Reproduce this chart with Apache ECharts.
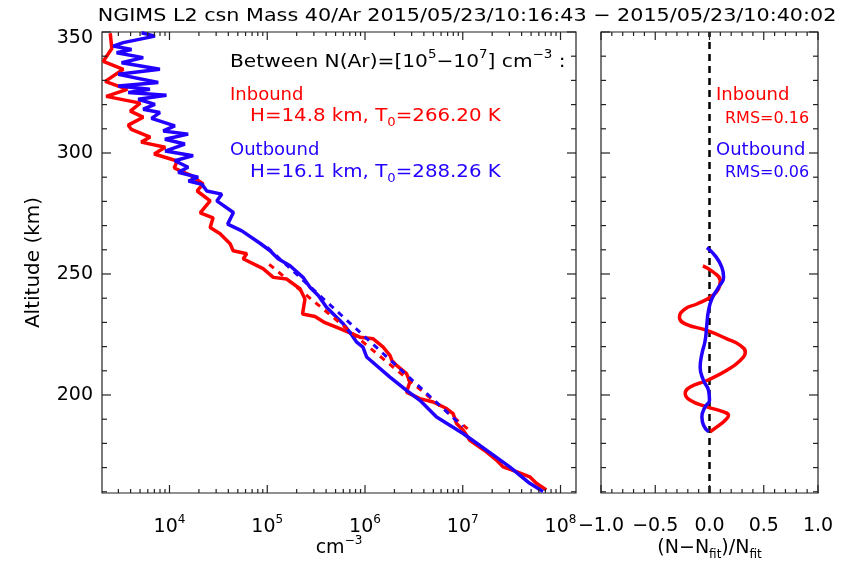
<!DOCTYPE html>
<html><head><meta charset="utf-8">
<script src="https://cdn.jsdelivr.net/npm/echarts@6/dist/echarts.min.js"></script>
<style>html,body{margin:0;padding:0;background:#fff}#c{width:843px;height:561px}</style>
</head><body><div id="c"></div>
<script>
const titleText = 'NGIMS L2 csn Mass 40/Ar 2015/05/23/10:16:43 \u2212 2015/05/23/10:40:02';

// Inbound (red) density profile: altitude (km) and log10 density (cm^-3)
const inboundAlt = [349.5,343.2,337.9,334.6,329.6,326.3,323.4,320.6,317.3,314.8,311.5,309.8,306.6,304.5,302.4,299.6,296.7,293.8,290.9,287.2,284.3,280.2,275.3,273.2,269.2,266.6,262.5,259.6,258.4,256.3,252.2,248.6,247.9,243.9,239.7,233.5,232.4,229.9,227.4,223.9,223.2,219.8,216.4,214.3,212.2,208.8,205.4,201.2,198.5,197.1,194.4,192.3,188.2,185.5,181.3,176.5,173.1,170.3,168.3,166.2,163.5,160.8];
const inboundLogN = [3.394,3.410,3.323,3.527,3.343,3.568,3.353,3.701,3.599,3.731,3.578,3.609,3.803,3.711,3.956,3.844,4.079,4.048,4.211,4.344,4.283,4.416,4.314,4.446,4.416,4.518,4.620,4.651,4.791,4.753,4.957,5.062,5.199,5.335,5.386,5.361,5.488,5.590,5.744,5.948,6.084,6.186,6.255,6.275,6.323,6.425,6.459,6.425,6.561,6.697,6.834,6.901,6.936,7.003,7.072,7.242,7.344,7.412,7.549,7.685,7.753,7.855];

// Outbound (blue) density profile
const outboundAlt = [349.7,348.3,345.6,344.2,342.8,341.4,339.4,337.3,334.6,332.5,329.1,327.7,326.3,325.0,323.9,322.2,320.1,318.1,316.7,314.3,311.2,309.1,307.8,305.7,303.7,300.8,298.9,296.8,294.1,292.0,290.0,288.4,287.1,284.3,283.0,280.2,275.4,270.6,267.8,262.7,259.6,256.3,253.4,248.5,244.5,241.1,236.2,229.4,225.9,221.8,219.8,215.7,207.4,201.9,197.8,190.9,184.1,177.2,170.3,163.5,160.1];
const outboundLogN = [3.714,3.851,3.527,3.425,3.612,3.459,3.731,3.510,3.902,3.476,3.885,3.476,3.800,3.578,3.969,3.680,3.851,3.731,3.902,3.816,4.055,3.936,4.191,3.953,4.157,3.956,4.242,4.055,4.191,4.089,4.293,4.194,4.331,4.382,4.535,4.484,4.654,4.595,4.740,4.926,5.029,5.111,5.233,5.369,5.437,5.522,5.608,5.777,5.846,5.915,5.979,6.017,6.255,6.425,6.561,6.732,7.003,7.242,7.480,7.685,7.821];

// Fitted exponential profiles (end points of the dashed lines)
const inboundFitAlt = [254, 186];
const inboundFitLogN = [5.02, 7.05];
const outboundFitAlt = [261, 187];
const outboundFitLogN = [5.00, 7.00];

// Relative residuals (N - Nfit)/Nfit
const inboundResAlt = [253.4,250.7,247.2,243.8,240.4,237.6,235.6,232.1,229.4,226.7,223.2,220.5,217.7,214.3,210.2,206.0,203.3,200.6,197.8,195.1,193.0,191.6,189.6,186.8,184.8];
const inboundRes = [-0.061,0.037,0.099,0.083,0.006,-0.116,-0.224,-0.277,-0.224,-0.024,0.16,0.283,0.33,0.283,0.16,-0.024,-0.178,-0.224,-0.178,-0.024,0.13,0.175,0.145,0.068,0.006];
const outboundResAlt = [260.9,257.5,252.7,248.6,244.5,239.7,234.9,229.4,222.5,217.0,211.5,206.0,201.9,197.8,195.1,191.0,187.5,184.8];
const outboundRes = [-0.024,0.053,0.114,0.13,0.083,0.022,-0.009,-0.024,-0.04,-0.07,-0.086,-0.055,-0.009,0,-0.04,-0.07,-0.055,-0.009];

// Axes ranges and ticks
const altRange = [159.5, 350];
const densRange = [2040, 1.44e8];
const residualRange = [-1, 1];
const densMajorTicks = [1e4, 1e5, 1e6, 1e7, 1e8];
const densMinorTicks = [3e3,4e3,5e3,6e3,7e3,8e3,9e3,2e4,3e4,4e4,5e4,6e4,7e4,8e4,9e4,2e5,3e5,4e5,5e5,6e5,7e5,8e5,9e5,2e6,3e6,4e6,5e6,6e6,7e6,8e6,9e6,2e7,3e7,4e7,5e7,6e7,7e7,8e7,9e7];
const altMajorTicks = [200, 250, 300, 350];
const altMinorTicks = [160,170,180,190,210,220,230,240,260,270,280,290,310,320,330,340];
const resMajorTicks = [-1, -0.5, 0, 0.5, 1];
const resMinorTicks = [-0.9,-0.8,-0.7,-0.6,-0.4,-0.3,-0.2,-0.1,0.1,0.2,0.3,0.4,0.6,0.7,0.8,0.9];
const zeroLineX = [0, 0];

const FONT = 'DejaVu Sans';
const RED = '#ff0000';
const BLUE = '#2200ff';
const AXC = '#222';

const pairs = (xs, ys, fx) => xs.map((v, i) => [fx ? fx(v) : v, ys[i]]);
const pow10 = v => Math.pow(10, v);

const supRich = (color, size) => ({
  b: {fontSize: size, fontFamily: FONT, color: color, lineHeight: 26},
  s: {fontSize: 12, fontFamily: FONT, color: color, lineHeight: 12, verticalAlign: 'top'},
  d: {fontSize: 12, fontFamily: FONT, color: color, lineHeight: 12, verticalAlign: 'bottom'}
});

// tick marks (inside, mirrored on all four sides) drawn through the axes' scales
function tickSeries(xi, yi, xRange, xMajor, xMinor, yMajor, yMinor) {
  const data = []
    .concat(xMajor.map(v => [v, altRange[0], 8, 0]))
    .concat(xMinor.map(v => [v, altRange[0], 4, 0]))
    .concat(yMajor.map(v => [xRange[0], v, 9, 1]))
    .concat(yMinor.map(v => [xRange[0], v, 5, 1]));
  return {
    type: 'custom', xAxisIndex: xi, yAxisIndex: yi, data: data, silent: true, clip: false, z: 10,
    renderItem: (params, api) => {
      const len = api.value(2), o = api.value(3);
      const st = {stroke: AXC, lineWidth: 1.2};
      let a, b;
      if (o === 0) {
        const p = api.coord([api.value(0), altRange[0]]);
        const q = api.coord([api.value(0), altRange[1]]);
        a = {x1: p[0], y1: p[1], x2: p[0], y2: p[1] - len};
        b = {x1: q[0], y1: q[1], x2: q[0], y2: q[1] + len};
      } else {
        const p = api.coord([xRange[0], api.value(1)]);
        const q = api.coord([xRange[1], api.value(1)]);
        a = {x1: p[0], y1: p[1], x2: p[0] + len, y2: p[1]};
        b = {x1: q[0], y1: q[1], x2: q[0] - len, y2: q[1]};
      }
      return {type: 'group', children: [
        {type: 'line', shape: a, style: st},
        {type: 'line', shape: b, style: st}
      ]};
    }
  };
}

const gridBase = {show: true, borderColor: AXC, borderWidth: 1.2, backgroundColor: 'transparent',
  containLabel: false, outerBoundsMode: 'none'};

const option = {
  animation: false,
  backgroundColor: '#fff',
  textStyle: {fontFamily: FONT},
  grid: [
    Object.assign({left: 102, top: 32, width: 474, height: 461}, gridBase),
    Object.assign({left: 601, top: 32, width: 217, height: 461}, gridBase)
  ],
  xAxis: [
    {
      gridIndex: 0, type: 'log', logBase: 10, min: densRange[0], max: densRange[1], position: 'bottom',
      axisLine: {show: false, onZero: false}, axisTick: {show: false},
      splitLine: {show: false}, minorTick: {show: false}, minorSplitLine: {show: false},
      axisLabel: {
        show: true, customValues: densMajorTicks, margin: 21,
        formatter: v => '{b|10}{s|' + Math.round(Math.log10(v)) + '}',
        rich: supRich('#000', 19)
      },
      name: '{b|cm}{s|\u22123}', nameLocation: 'middle', nameGap: 42, nameMoveOverlap: false,
      nameTextStyle: {rich: supRich('#000', 19)}
    },
    {
      gridIndex: 1, type: 'value', min: residualRange[0], max: residualRange[1], interval: 0.5, position: 'bottom',
      axisLine: {show: false, onZero: false}, axisTick: {show: false},
      splitLine: {show: false}, minorTick: {show: false},
      axisLabel: {
        show: true, margin: 24, fontSize: 19, fontFamily: FONT, color: '#000',
        formatter: v => (v < 0 ? '\u2212' : '') + Math.abs(v).toFixed(1)
      },
      name: '{b|(N\u2212N}{d|fit}{b|)/N}{d|fit}', nameLocation: 'middle', nameGap: 42, nameMoveOverlap: false,
      nameTextStyle: {rich: supRich('#000', 19)}
    }
  ],
  yAxis: [
    {
      gridIndex: 0, type: 'value', min: altRange[0], max: altRange[1], position: 'left',
      axisLine: {show: false, onZero: false}, axisTick: {show: false}, splitLine: {show: false},
      axisLabel: {
        show: true, customValues: altMajorTicks, margin: 9, fontSize: 19, fontFamily: FONT, color: '#000',
        formatter: v => v === 350 ? '{t|350}' : String(v),
        rich: {t: {fontSize: 19, fontFamily: FONT, color: '#000', padding: [12, 0, 0, 0]}}
      },
      name: 'Altitude (km)', nameLocation: 'middle', nameGap: 58, nameMoveOverlap: false,
      nameTextStyle: {fontSize: 20, fontFamily: FONT, color: '#000'}
    },
    {
      gridIndex: 1, type: 'value', min: altRange[0], max: altRange[1], position: 'left',
      axisLine: {show: false, onZero: false}, axisTick: {show: false}, splitLine: {show: false},
      axisLabel: {show: false}
    }
  ],
  series: [
    {type: 'line', xAxisIndex: 0, yAxisIndex: 0, data: pairs(inboundLogN, inboundAlt, pow10),
      showSymbol: false, lineStyle: {color: RED, width: 3.5}, z: 3},
    {type: 'line', xAxisIndex: 0, yAxisIndex: 0, data: pairs(outboundLogN, outboundAlt, pow10),
      showSymbol: false, lineStyle: {color: BLUE, width: 3.5}, z: 4},
    {type: 'line', xAxisIndex: 0, yAxisIndex: 0, data: pairs(inboundFitLogN, inboundFitAlt, pow10),
      showSymbol: false, lineStyle: {color: RED, width: 3, type: [6, 6]}, z: 5},
    {type: 'line', xAxisIndex: 0, yAxisIndex: 0, data: pairs(outboundFitLogN, outboundFitAlt, pow10),
      showSymbol: false, lineStyle: {color: BLUE, width: 3, type: [6, 6]}, z: 6},
    {type: 'line', xAxisIndex: 1, yAxisIndex: 1, data: pairs(zeroLineX, altRange),
      showSymbol: false, lineStyle: {color: '#000', width: 2.5, type: [7, 5]}, z: 2},
    {type: 'line', xAxisIndex: 1, yAxisIndex: 1, data: pairs(inboundRes, inboundResAlt),
      smooth: 0.5, showSymbol: false, lineStyle: {color: RED, width: 3.5}, z: 3},
    {type: 'line', xAxisIndex: 1, yAxisIndex: 1, data: pairs(outboundRes, outboundResAlt),
      smooth: 0.5, showSymbol: false, lineStyle: {color: BLUE, width: 3.5}, z: 4},
    tickSeries(0, 0, densRange, densMajorTicks, densMinorTicks, altMajorTicks, altMinorTicks),
    tickSeries(1, 1, residualRange, resMajorTicks, resMinorTicks, altMajorTicks, altMinorTicks)
  ]
};

function txt(x, y, text, color, size, scaleX, rich) {
  return {
    type: 'text', x: x, y: y, scaleX: scaleX || 1, silent: true, z: 100,
    style: {
      text: text, fill: color, fontSize: size, fontFamily: FONT,
      align: 'left', verticalAlign: 'middle', textAlign: 'left', textVerticalAlign: 'middle',
      rich: rich
    }
  };
}
const title = txt(467, 16, titleText, '#000', 18, 1.15);
title.style.align = 'center'; title.style.textAlign = 'center';

option.graphic = [
  title,
  txt(230, 62, '{b|Between N(Ar)=[10}{s|5}{b|\u221210}{s|7}{b|] cm}{s|\u22123}{b| :}', '#000', 18, 1.12, supRich('#000', 18)),
  txt(230, 95, 'Inbound', RED, 18),
  txt(250, 116, '{b|H=14.8 km, T}{d|0}{b|=266.20 K}', RED, 18, 1.1, supRich(RED, 18)),
  txt(230, 150, 'Outbound', BLUE, 18),
  txt(250, 172, '{b|H=16.1 km, T}{d|0}{b|=288.26 K}', BLUE, 18, 1.1, supRich(BLUE, 18)),
  txt(716, 95, 'Inbound', RED, 18),
  txt(725, 118.5, 'RMS=0.16', RED, 16),
  txt(716, 150, 'Outbound', BLUE, 18),
  txt(725, 172.5, 'RMS=0.06', BLUE, 16)
];

const chart = echarts.init(document.getElementById('c'), null, {renderer: 'canvas'});
chart.setOption(option);
</script>
</body></html>
